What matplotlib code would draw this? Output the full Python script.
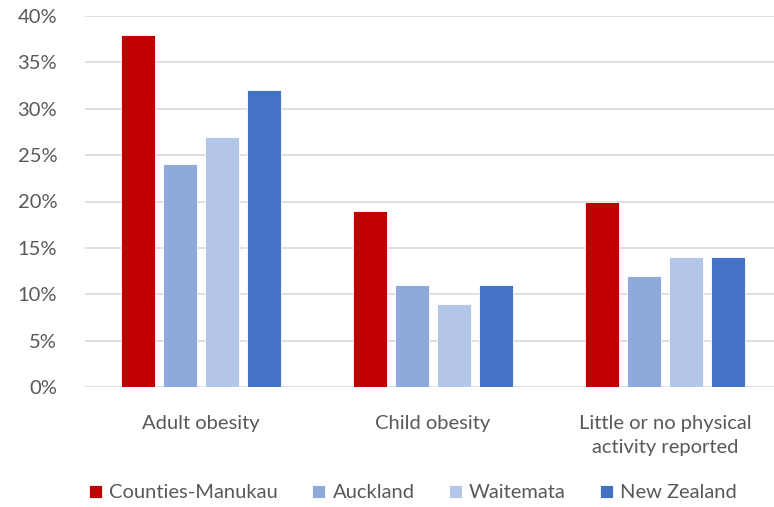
import matplotlib.pyplot as plt
import numpy as np

# Chart data
categories = ['Adult obesity', 'Child obesity', 'Little or no physical\nactivity reported']
regions = ['Counties-Manukau', 'Auckland', 'Waitemata', 'New Zealand']
counties_manukau = [38, 19, 20]
auckland = [24, 11, 12]
waitemata = [27, 9, 14]
new_zealand = [32, 11, 14]
colors = ['#C00000', '#8EA9DB', '#B4C6E7', '#4472C4']

plt.rcParams['font.family'] = ['Lato', 'DejaVu Sans']
text_color = '#595959'

fig = plt.figure(figsize=(7.74, 5.07), dpi=100)
ax = fig.add_axes([85 / 774, 1 - 387 / 507, 696 / 774, 371 / 507])

x = np.arange(len(categories))
series = [counties_manukau, auckland, waitemata, new_zealand]
step = 0.181
width = 0.147
for i, (name, vals) in enumerate(zip(regions, series)):
    ax.bar(x + (i - 1.5) * step, vals, width, color=colors[i], label=name,
           edgecolor='white', linewidth=0.6, zorder=3)

ax.set_xlim(-0.5, 2.5)
ax.set_ylim(0, 40)
ax.set_yticks(range(0, 41, 5))
ax.set_yticklabels([f'{v}%' for v in range(0, 41, 5)])
ax.yaxis.grid(True, color='#d9d9d9', linewidth=1.2, zorder=0)
for s in ax.spines.values():
    s.set_visible(False)
ax.tick_params(axis='both', length=0, colors=text_color, labelsize=14.5)
ax.tick_params(axis='y', pad=20)
ax.tick_params(axis='x', pad=20)
ax.set_xticks(x)
ax.set_xticklabels(categories, linespacing=1.55)

fig.legend(loc='center', bbox_to_anchor=(413 / 774, 1 - 493 / 507), ncol=4,
           frameon=False, fontsize=14.5, handlelength=0.65, handleheight=0.65,
           handletextpad=0.35, columnspacing=1.7, labelcolor=text_color)

fig.savefig('out.png', dpi=100)
